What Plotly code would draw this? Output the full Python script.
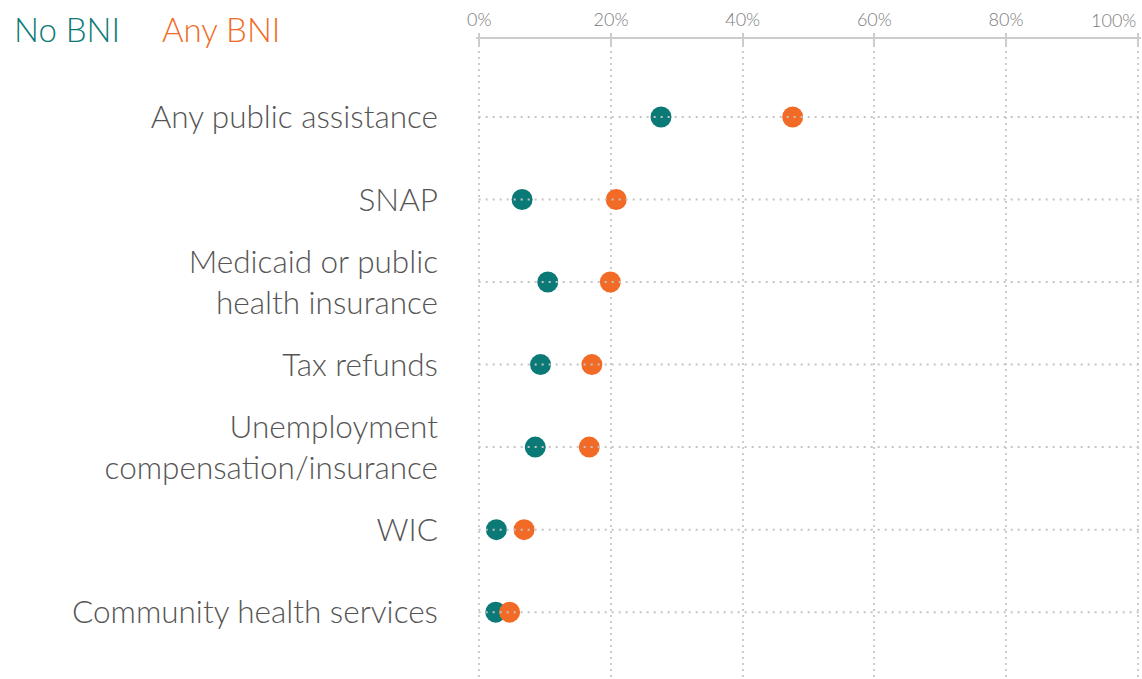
import plotly.graph_objects as go

categories = [
    "Any public assistance",
    "SNAP",
    "Medicaid or public<br>health insurance",
    "Tax refunds",
    "Unemployment<br>compensation/insurance",
    "WIC",
    "Community health services",
]
no_bni = [27.6, 6.5, 10.4, 9.3, 8.5, 2.6, 2.5]
any_bni = [47.6, 20.8, 19.9, 17.1, 16.7, 6.8, 4.6]
x_ticks = [0, 20, 40, 60, 80, 100]
x_ticklabels = ["0%", "20%", "40%", "60%", "80%", "100%"]

TEAL = "#0b7a76"
ORANGE = "#f26b26"
FONT = "Lato"
TICKFONT = dict(family=FONT, size=18, color="#7a7a7a", weight=300)

ypos = list(range(len(categories)))

fig = go.Figure()
fig.add_trace(go.Scatter(x=no_bni, y=ypos, mode="markers", name="No BNI",
                         marker=dict(size=21, color=TEAL, line=dict(width=0)),
                         showlegend=False, hoverinfo="x+name"))
fig.add_trace(go.Scatter(x=any_bni, y=ypos, mode="markers", name="Any BNI",
                         marker=dict(size=21, color=ORANGE, line=dict(width=0)),
                         showlegend=False, hoverinfo="x+name"))

# dotted horizontal guide lines drawn above the markers
for yv in ypos:
    fig.add_shape(type="line", xref="paper", yref="y", x0=0.004, x1=1.01, y0=yv, y1=yv,
                  layer="above", line=dict(color="#c4c4c4", width=2, dash="2px,5px"))

xr = [-0.5, 100.5]
# last tick label is drawn right-aligned to its tick so it stays inside the page
shown_ticktext = x_ticklabels[:-1] + [""]
fig.update_layout(
    width=1142, height=679,
    margin=dict(l=476, r=1, t=39, b=0, autoexpand=False),
    plot_bgcolor="white", paper_bgcolor="white",
    font=dict(family=FONT, color="#555555"),
    xaxis=dict(
        side="top", range=xr, tickvals=x_ticks, ticktext=shown_ticktext,
        showline=True, linecolor="#cccccc", linewidth=2,
        ticks="outside", ticklen=4, tickwidth=2, tickcolor="#cccccc",
        tickfont=TICKFONT, ticklabelstandoff=0,
        showgrid=True, gridcolor="#cccccc", gridwidth=1.5, griddash="2px,4px",
        zeroline=False, fixedrange=True, automargin=False,
    ),
    xaxis2=dict(
        overlaying="x", side="top", range=xr, tickvals=x_ticks,
        showticklabels=False, ticks="inside", ticklen=6, tickwidth=2,
        tickcolor="#cccccc", showgrid=False, showline=False, zeroline=False,
        automargin=False, fixedrange=True,
    ),
    yaxis=dict(
        range=[6.81, -0.945], tickvals=ypos, ticktext=categories,
        tickfont=dict(family=FONT, size=31.5, color="#555555", weight=300),
        showgrid=False, zeroline=False, showline=False, ticks="",
        ticklabelstandoff=37, fixedrange=True, automargin=False,
    ),
)
# invisible trace to activate xaxis2 for inward tick marks
fig.add_trace(go.Scatter(x=[None], y=[None], xaxis="x2", showlegend=False, hoverinfo="skip"))

fig.add_annotation(text=x_ticklabels[-1], xref="x", yref="paper",
                   x=x_ticks[-1], y=1 + (39 - 20) / 640, xanchor="right", yanchor="middle",
                   showarrow=False, font=TICKFONT)

fig.add_annotation(text="No BNI", xref="paper", yref="paper",
                   x=(12 - 476) / 665, y=1 + (39 - 29) / 640, xanchor="left", yanchor="middle",
                   showarrow=False, font=dict(family=FONT, size=33, color=TEAL, weight=300))
fig.add_annotation(text="Any BNI", xref="paper", yref="paper",
                   x=(160 - 476) / 665, y=1 + (39 - 29) / 640, xanchor="left", yanchor="middle",
                   showarrow=False, font=dict(family=FONT, size=33, color=ORANGE, weight=300))

fig.write_html("out.html", config={"displayModeBar": False},
               post_script="document.body.style.margin='0';")
